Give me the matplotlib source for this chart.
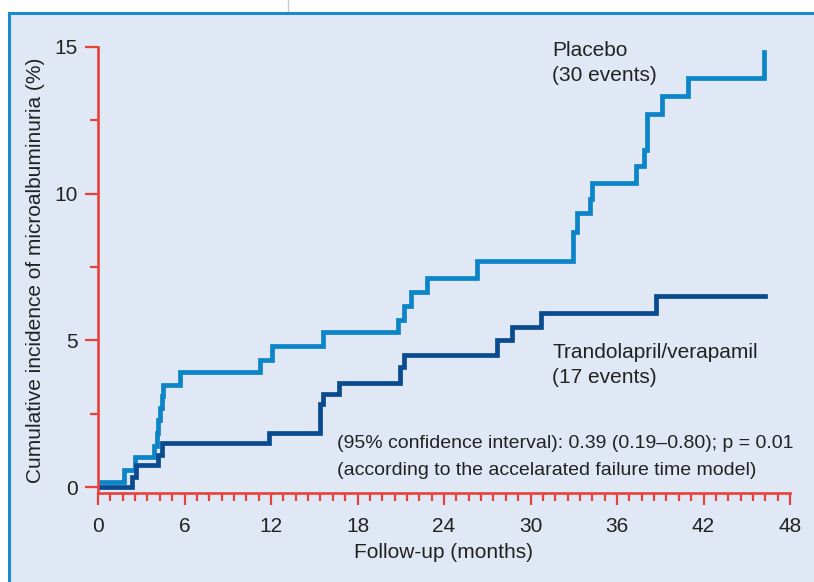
import numpy as np
import matplotlib
matplotlib.use('Agg')
import matplotlib.pyplot as plt
from matplotlib.patches import Rectangle
from matplotlib.lines import Line2D
from matplotlib.ticker import MultipleLocator

plt.rcParams['font.family'] = ['Liberation Sans', 'DejaVu Sans']

# Kaplan-Meier style step curves (months, cumulative %)
placebo_t = [0, 1.83, 2.6, 3.9, 4.07, 4.18, 4.3, 4.42, 4.53, 5.69, 11.24, 12.05,
             15.6, 20.8, 21.25, 21.7, 22.8, 26.3, 32.95, 33.25, 34.1, 34.3,
             37.3, 37.9, 38.06, 39.1, 40.95, 46.2]
placebo_y = [0.18, 0.6, 1.04, 1.4, 1.84, 2.28, 2.69, 3.1, 3.48, 3.94, 4.33, 4.82,
             5.27, 5.7, 6.17, 6.65, 7.13, 7.72, 8.7, 9.33, 9.81, 10.35,
             10.94, 11.49, 12.72, 13.33, 13.93, 14.84]

trando_t = [0, 2.33, 2.64, 4.18, 4.42, 11.88, 15.4, 15.6, 16.75, 20.95, 21.2,
            27.7, 28.7, 30.7, 38.7, 46.3]
trando_y = [0.0, 0.33, 0.75, 1.09, 1.51, 1.86, 2.82, 3.17, 3.56, 4.1, 4.5,
            5.01, 5.47, 5.94, 6.51, 6.51]

x_ticks = [0, 6, 12, 18, 24, 30, 36, 42, 48]
y_ticks = [0, 5, 10, 15]

light = '#0b85c7'
dark = '#0a4b8f'
red = '#e8413c'
panel = '#dfe8f4'
txt = '#222222'

fig = plt.figure(figsize=(8.14, 5.82), dpi=100)
W, H = 814, 582

# light blue panel with blue border
fig.patches.append(Rectangle((9 / W, -0.1), 1.2, (H - 13) / H + 0.1,
                             transform=fig.transFigure, facecolor=panel,
                             edgecolor='#1a8ccc', linewidth=2.2, zorder=-10))
fig.lines.append(Line2D([288 / W, 288 / W], [(H - 13) / H, 1],
                        transform=fig.transFigure, color='#c8c8c8', lw=1, zorder=-10))

ax = fig.add_axes([98 / W, 89 / H, 692 / W, 446 / H])
ax.set_facecolor('none')

ax.step(placebo_t, placebo_y, where='post', color=light, lw=3.4, solid_joinstyle='miter')
ax.step(trando_t, trando_y, where='post', color=dark, lw=3.4, solid_joinstyle='miter')

ax.set_xlim(0, 48)
ax.set_ylim(-0.2, 15)
ax.set_xticks(x_ticks)
ax.set_yticks(y_ticks)
ax.xaxis.set_minor_locator(MultipleLocator(6 / 7))
ax.yaxis.set_minor_locator(MultipleLocator(2.5))

for s in ['top', 'right']:
    ax.spines[s].set_visible(False)
for s in ['left', 'bottom']:
    ax.spines[s].set_color(red)
    ax.spines[s].set_linewidth(1.9)

ax.tick_params(axis='both', which='both', color=red, width=1.6, labelsize=15,
               labelcolor=txt)
ax.tick_params(axis='x', which='major', length=8.6, pad=9)
ax.tick_params(axis='x', which='minor', length=5.8)
ax.tick_params(axis='y', which='major', length=9.4, pad=5)
ax.tick_params(axis='y', which='minor', length=5.8)

ax.set_xlabel('Follow-up (months)', fontsize=15, color=txt, va='center')
ax.xaxis.set_label_coords(0.5, -0.1345)
ax.set_ylabel('Cumulative incidence of microalbuminuria (%)', fontsize=15,
              color=txt, va='center')
ax.yaxis.set_label_coords(-0.091, 0.5)

ax.text(31.5, 14.69, 'Placebo', fontsize=15, color=txt, va='baseline')
ax.text(31.5, 13.84, '(30 events)', fontsize=15, color=txt, va='baseline')
ax.text(31.5, 4.39, 'Trandolapril/verapamil', fontsize=15, color=txt, va='baseline')
ax.text(31.5, 3.54, '(17 events)', fontsize=15, color=txt, va='baseline')
ax.text(16.55, 1.32, '(95% confidence interval): 0.39 (0.19\u20130.80); p = 0.01',
        fontsize=14, color=txt, va='baseline')
ax.text(16.55, 0.43, '(according to the accelarated failure time model)',
        fontsize=14, color=txt, va='baseline')

fig.savefig('out.png', dpi=100)
